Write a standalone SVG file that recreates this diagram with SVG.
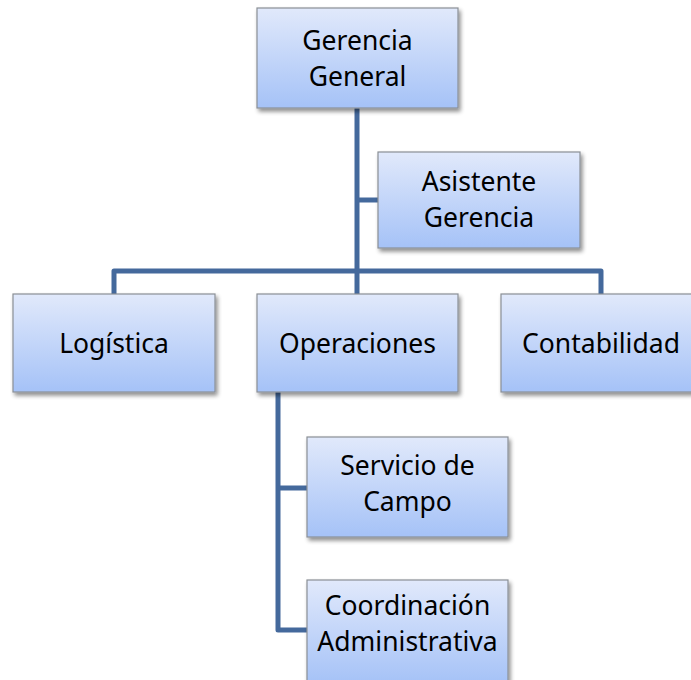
<svg xmlns="http://www.w3.org/2000/svg" width="691" height="680" viewBox="0 0 691 680">
<defs>
<linearGradient id="g" x1="0" y1="0" x2="0" y2="1">
<stop offset="0" stop-color="#e1e9fb"/>
<stop offset="1" stop-color="#a5c2f7"/>
</linearGradient>
<filter id="sh" x="-10%" y="-10%" width="125%" height="130%">
<feGaussianBlur in="SourceAlpha" stdDeviation="2"/>
<feOffset dx="2" dy="3"/>
<feComponentTransfer><feFuncA type="linear" slope="0.45"/></feComponentTransfer>
<feMerge><feMergeNode/><feMergeNode in="SourceGraphic"/></feMerge>
</filter>
</defs>
<style>
.box{fill:url(#g);stroke:#8a8f96;stroke-width:1.2;filter:url(#sh)}
.t{font-family:"Noto Sans","Open Sans",sans-serif;font-size:26.5px;fill:#000;text-anchor:middle}
.c{fill:none;stroke:#44699c;stroke-width:5;stroke-linejoin:round}
</style>
<g id="connectors">
<path class="c" d="M357,108 V294"/>
<path class="c" d="M357,200 H378"/>
<path class="c" d="M114,294 V271 H601 V294"/>
<path class="c" d="M278,392 V630 H308"/>
<path class="c" d="M278,488 H308"/>
</g>
<g id="gerencia"><rect class="box" x="257" y="8" width="201" height="100"/><text class="t" x="357.5" y="49.5">Gerencia</text><text class="t" x="357.5" y="85.5">General</text></g>
<g id="asistente"><rect class="box" x="378" y="152" width="202" height="96"/><text class="t" x="479" y="191">Asistente</text><text class="t" x="479" y="227">Gerencia</text></g>
<g id="logistica"><rect class="box" x="13" y="294" width="202" height="98"/><text class="t" x="114" y="353">Logística</text></g>
<g id="operaciones"><rect class="box" x="257" y="294" width="201" height="98"/><text class="t" x="357.5" y="353">Operaciones</text></g>
<g id="contabilidad"><rect class="box" x="501" y="294" width="202" height="98"/><text class="t" x="601" y="353">Contabilidad</text></g>
<g id="servicio"><rect class="box" x="307" y="437" width="201" height="100"/><text class="t" x="407.5" y="475">Servicio de</text><text class="t" x="407.5" y="511">Campo</text></g>
<g id="coordinacion"><rect class="box" x="307" y="580" width="201" height="104"/><text class="t" x="407.5" y="614.5">Coordinación</text><text class="t" x="407.5" y="650.5">Administrativa</text></g>
</svg>
